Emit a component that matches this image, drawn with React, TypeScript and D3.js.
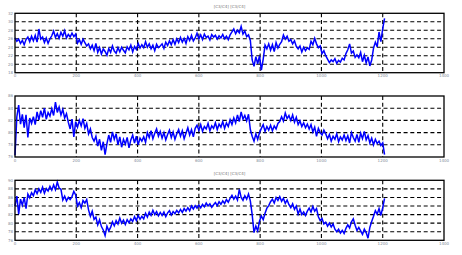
import React from "react";
import * as d3 from "d3";

const xStep = 6;
const xTicks = [0, 200, 400, 600, 800, 1000, 1200, 1400];

const series1 = [
  26.2, 25.4, 25.9, 24.9, 25.6, 24.6, 25.8, 26.4, 25.3, 26.6,
  25.5, 26.8, 25.2, 28.3, 25.9, 26.4, 25.1, 26.2, 24.9, 26.0,
  26.7, 27.8, 26.3, 27.2, 26.1, 27.5, 26.6, 27.9, 26.2, 27.0,
  26.4, 27.3, 26.5, 27.1, 25.0, 25.8, 24.7, 25.9, 25.1, 24.3,
  24.8, 23.6, 24.5, 23.2, 24.9, 22.8, 23.9, 22.4, 23.6, 23.0,
  22.1, 23.7, 22.8, 24.3, 23.1, 22.6, 23.9, 22.9, 24.0, 23.3,
  22.7, 24.1, 23.4, 24.5, 22.9, 24.2, 23.5, 24.9, 23.8, 24.6,
  23.9, 25.3, 24.0, 24.8, 23.6, 24.5, 23.2, 24.7, 23.9, 24.3,
  24.8, 23.7, 25.2, 24.4, 25.5, 24.6, 25.8, 24.7, 26.0, 25.1,
  26.3, 25.2, 26.1, 24.9, 26.5, 25.6, 26.8, 25.5, 26.2, 27.3,
  26.0, 26.9, 25.8, 27.1, 26.3, 26.6, 25.7, 27.0, 26.4, 26.8,
  25.9, 26.7, 26.2, 27.0, 26.0, 26.6, 25.8, 26.9, 27.6, 28.3,
  27.2, 28.0, 27.4, 28.9, 27.1, 27.8, 26.5, 26.9, 25.6, 21.0,
  19.5, 21.8, 20.1, 22.0, 18.6, 21.2, 24.5, 23.6, 24.8, 23.3,
  24.6, 23.0, 25.1, 23.8, 24.7, 25.3, 26.9, 25.9, 26.6, 25.4,
  25.8, 24.8, 25.5, 24.2, 23.6, 24.3, 22.9, 24.0, 23.2, 23.9,
  23.5, 25.4, 24.6, 26.1, 24.8, 23.9, 24.3, 22.5, 23.2, 22.0,
  21.2, 20.4, 21.0, 20.6, 21.3, 20.2, 20.9, 20.5, 21.4, 21.0,
  22.5, 23.4, 24.8, 22.6, 23.1, 21.6, 22.2, 21.5, 22.8, 20.6,
  22.1, 20.3, 21.7, 19.6, 21.0, 23.8, 25.2, 24.1, 27.6, 25.3,
  28.4, 30.8,
];

const series2 = [
  76.3, 82.6, 84.5, 81.4, 83.0, 80.8, 82.9, 79.2, 82.4, 81.5,
  82.6, 81.3, 83.4, 82.1, 83.6, 82.5, 84.0, 82.2, 83.3, 82.7,
  83.9, 82.8, 85.0, 83.3, 84.2, 82.9, 83.8, 82.4, 83.1, 81.7,
  80.6, 82.2, 79.3, 81.8, 80.9, 82.0, 81.1, 82.3, 80.7, 81.5,
  79.8, 80.6, 79.2, 78.6, 79.4, 77.8, 78.9, 77.1, 78.5, 76.4,
  78.2, 79.6, 78.4, 80.1, 78.9, 79.8, 78.0, 79.3, 77.6, 78.9,
  78.1, 79.2, 77.5, 78.8, 79.6, 78.3, 79.4, 78.0, 79.1, 78.6,
  79.3, 78.4, 80.0, 79.2, 80.3, 79.0, 79.9, 80.6, 79.4, 80.2,
  79.1, 80.0, 78.8, 79.7, 80.4, 79.2, 80.1, 78.9, 79.8, 80.5,
  79.4, 80.3, 79.0, 79.9, 80.8, 79.6, 80.5, 79.3, 80.7, 81.2,
  80.4, 81.3, 80.2, 81.0, 80.6, 81.5, 80.3, 81.1, 80.7, 81.6,
  80.5, 81.4, 80.9, 81.8, 80.7, 81.6, 81.0, 82.1, 81.3, 82.4,
  81.6, 82.9, 81.8, 83.4, 82.2, 82.8, 81.9, 83.0, 80.5, 79.4,
  78.6, 79.8, 78.9, 80.0, 80.7, 81.3, 80.2, 81.0, 80.4, 81.2,
  80.3, 81.1, 80.6, 81.5, 81.8, 82.6, 81.9, 83.2, 82.3, 82.8,
  82.0, 82.9, 81.7, 82.5, 81.3, 81.9, 81.0, 81.6, 80.8, 81.4,
  80.6, 81.3, 80.1, 80.9, 79.4, 80.7, 80.0, 79.6, 80.4, 79.8,
  79.0, 79.7, 78.6, 79.4, 78.9, 79.8, 78.5, 79.3, 78.8, 79.6,
  78.7, 79.5, 78.3, 80.0, 79.2, 78.6, 79.7, 78.4, 79.9, 79.0,
  80.2, 78.8, 79.5, 78.3, 79.1, 78.0, 78.9, 78.2, 78.6, 77.9,
  78.3, 76.4,
];

const series3 = [
  84.0, 86.3, 82.1, 85.6, 84.2, 86.0, 83.4, 86.8, 85.9, 87.1,
  86.4, 87.8, 86.9, 88.0, 87.2, 88.4, 87.0, 88.1, 87.5, 88.6,
  87.7, 88.9, 87.8, 89.6, 88.2, 87.9, 85.4, 86.3, 85.2, 86.0,
  85.5, 86.2, 87.4, 86.6, 84.0, 84.8, 83.6, 85.3, 84.7, 85.5,
  83.1, 81.6, 82.8, 80.9, 81.4, 79.6, 80.8, 79.2, 78.4, 77.1,
  79.3, 78.2, 79.0, 80.3, 79.4, 80.6, 79.8, 81.2, 80.0, 80.7,
  79.7, 80.8, 80.1, 81.0, 80.4, 81.5, 80.6, 81.8, 80.9, 81.6,
  81.0, 82.3, 81.4, 82.6, 81.8, 83.0, 82.0, 82.7, 81.7, 82.5,
  81.8, 82.6, 81.5, 82.4, 82.9, 81.9, 82.7, 82.2, 83.0, 82.4,
  83.2, 82.5, 83.4, 82.8, 83.6, 82.9, 84.0, 83.3, 84.1, 83.5,
  84.2, 83.6, 84.4, 83.8, 84.7, 84.0, 84.5, 83.7, 84.3, 84.8,
  84.1, 85.0, 84.4, 85.2, 84.6, 85.5, 84.9, 85.8, 86.5, 85.6,
  86.3, 85.4, 87.9, 86.0, 85.3, 86.4, 85.6, 86.8, 85.2, 82.0,
  77.8, 79.3, 78.2, 80.5, 81.7, 80.8, 82.3, 83.5, 84.1, 85.0,
  85.6, 84.7, 86.0, 85.3, 86.2, 85.1, 85.8, 84.6, 85.4, 84.3,
  83.6, 84.5, 83.2, 84.0, 82.1, 83.3, 82.0, 82.6, 81.8, 82.8,
  83.5, 82.6, 83.9, 82.8, 83.4, 81.5, 80.6, 81.1, 79.8, 80.2,
  79.3, 80.0, 79.1, 79.8, 78.6, 78.0, 78.6, 77.7, 78.3, 77.6,
  78.8, 79.6, 78.9, 80.3, 81.0, 79.5, 78.3, 79.0, 78.2, 77.4,
  78.6, 77.8, 76.5, 79.0, 80.4, 81.6, 82.9, 82.1, 83.4, 81.8,
  83.6, 85.8,
];

const yTicks1 = [18, 20, 22, 24, 26, 28, 30, 32];
const yTicks2 = [76, 78, 80, 82, 84, 86];
const yTicks3 = [76, 78, 80, 82, 84, 86, 88, 90];

const titles = ["[C3/C4] [C3/C4]", "", "[C3/C4] [C3/C4]"];

const panels = [
  { data: series1, ticks: yTicks1, top: 13.3, bottom: 72.7, title: titles[0] },
  { data: series2, ticks: yTicks2, top: 96, bottom: 157, title: titles[1] },
  { data: series3, ticks: yTicks3, top: 180.3, bottom: 240.3, title: titles[2] },
];

const LEFT = 15;
const RIGHT = 444;
const labelColor = "#7f8c99";

function Panel({ p }: { p: typeof panels[number] }) {
  const x = d3.scaleLinear().domain([0, 1400]).range([LEFT, RIGHT]);
  const y = d3
    .scaleLinear()
    .domain([p.ticks[0], p.ticks[p.ticks.length - 1]])
    .range([p.bottom, p.top]);
  const line = d3
    .line<number>()
    .x((_, i) => x(i * xStep))
    .y((d) => y(d));
  return (
    <g>
      {p.ticks.slice(1, -1).map((t) => (
        <line
          key={"h" + t}
          x1={LEFT}
          x2={RIGHT}
          y1={y(t)}
          y2={y(t)}
          stroke="#000"
          strokeWidth={1.1}
          strokeDasharray="4,2.7"
        />
      ))}
      {xTicks.slice(1, -1).map((t) => (
        <line
          key={"v" + t}
          x1={x(t)}
          x2={x(t)}
          y1={p.top}
          y2={p.bottom}
          stroke="#000"
          strokeWidth={1.1}
          strokeDasharray="4,2.7"
        />
      ))}
      <path
        d={line(p.data) || ""}
        fill="none"
        stroke="#0000ff"
        strokeWidth={1.5}
        strokeLinejoin="miter"
      />
      <rect
        x={LEFT}
        y={p.top}
        width={RIGHT - LEFT}
        height={p.bottom - p.top}
        fill="none"
        stroke="#000"
        strokeWidth={1.3}
      />
      {p.ticks.map((t) => (
        <text
          key={"yl" + t}
          x={LEFT - 2}
          y={y(t)}
          dy="0.35em"
          textAnchor="end"
          fontSize={4}
          fontFamily="DejaVu Sans"
          fill={labelColor}
        >
          {t}
        </text>
      ))}
      {xTicks.map((t) => (
        <text
          key={"xl" + t}
          x={x(t)}
          y={p.bottom + 4.5}
          textAnchor="middle"
          fontSize={4}
          fontFamily="DejaVu Sans"
          fill={labelColor}
        >
          {t}
        </text>
      ))}
      {p.title && (
        <text
          x={(LEFT + RIGHT) / 2}
          y={p.top - 5.5}
          textAnchor="middle"
          fontSize={4}
          fontFamily="DejaVu Sans"
          fill="#777"
        >
          {p.title}
        </text>
      )}
    </g>
  );
}

export default function App() {
  return (
    <svg
      width={462}
      height={255}
      style={{ position: "absolute", left: 0, top: 0, background: "#fff" }}
    >
      <rect width={462} height={255} fill="#fff" />
      {panels.map((p, i) => (
        <Panel key={i} p={p} />
      ))}
    </svg>
  );
}
